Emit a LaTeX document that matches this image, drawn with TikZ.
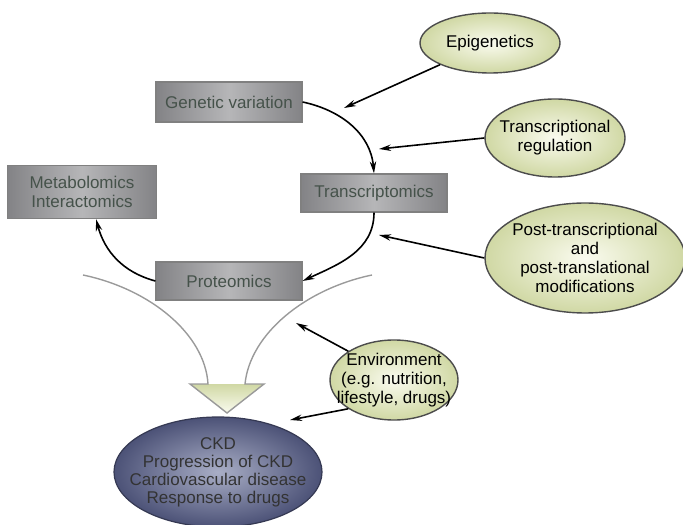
\documentclass[tikz,border=0pt]{standalone}
\usepackage{fontspec}
\setmainfont{Liberation Sans}
\usetikzlibrary{arrows.meta,shapes.geometric}
\definecolor{omicdark}{HTML}{838386}
\definecolor{omiclight}{HTML}{B6B6B8}
\definecolor{omictext}{HTML}{45524A}
\definecolor{factordark}{HTML}{D0D8A4}
\definecolor{factorlight}{HTML}{FAFBEF}
\definecolor{ckddark}{HTML}{4C5277}
\definecolor{ckdlight}{HTML}{A9AEC6}
\definecolor{funnelgray}{HTML}{9A9A9A}
\begin{document}
\begin{tikzpicture}[x=0.5pt,y=0.5pt,
	omic/.style={rectangle,draw=black!50,line width=0.6pt,left color=omicdark,right color=omicdark,middle color=omiclight,text=omictext,minimum width=73pt,minimum height=20pt,font=\fontsize{8.5}{9.5}\selectfont,align=center},
	factor/.style={ellipse,draw=black!70,line width=0.7pt,inner color=factorlight,outer color=factordark,inner sep=-8pt,font=\fontsize{8.5}{9.5}\selectfont,align=center},
	ckdnode/.style={ellipse,draw=ckddark!70!black,line width=0.6pt,inner color=ckdlight,outer color=ckddark,inner sep=-8pt,text=black!80,font=\fontsize{8.5}{9}\selectfont,align=center},
	link/.style={line width=0.8pt,-{Stealth[length=6pt,width=3.2pt]}}]
		\useasboundingbox (0,0) rectangle (683,524);
		
		\draw (490,481) node[factor,minimum width=70pt,minimum height=30pt] (epi) {Epigenetics};
		\draw (229,422) node[omic] (gv) {Genetic variation};
		\draw (555,386) node[factor,minimum width=70pt,minimum height=39pt] (treg) {Transcriptional\\regulation};
		\draw (82,332) node[omic,minimum width=74.5pt,minimum height=26.5pt] (meta) {Metabolomics\\Interactomics};
		\draw (374,331) node[omic,minimum height=19pt] (tx) {Transcriptomics};
		\draw (585,266) node[factor,minimum width=100pt,minimum height=55pt] (ptm) {Post-transcriptional\\and\\post-translational\\modifications};
		\draw (229,243) node[omic,minimum height=19pt] (prot) {Proteomics};
		\draw (394,144) node[factor,minimum width=64pt,minimum height=40pt] (env) {Environment\\(e.g. nutrition,\\lifestyle, drugs)};
		
		\draw (218,52) node[ckdnode,minimum width=104pt,minimum height=55pt] (ckd) {CKD\\Progression of CKD\\Cardiovascular disease\\Response to drugs};
		
		\fill [top color=factordark,bottom color=factorlight] (190,140) -- (227,111) -- (264,140) -- cycle;
		\draw [color=funnelgray,line width=0.7pt] (83,249) .. controls (150,235) and (205,190) .. (208,140) -- (190,140) -- (227,111) -- (264,140) -- (245,140) .. controls (250,190) and (305,235) .. (372,249);
		
		\coordinate (epitip) at (344,416);
		\coordinate (tregtip) at (379,375);
		\coordinate (ptmtip) at (379,289);
		\coordinate (envtip) at (296,201);
		\coordinate (ckdtip) at (290,104);
		
		\draw [link] (gv.east) to[out=-12,in=95] (tx.north);
		\draw [link] (tx.south) to[out=-90,in=25] (prot.east);
		\draw [link] (prot.west) to[out=165,in=-75] ([xshift=7pt]meta.south);
		
		\draw [link] (epi.south west) -- (epitip);
		\draw [link] (treg.west) -- (tregtip);
		\draw [link] (ptm.west) -- (ptmtip);
		\draw [link] (env.north west) -- (envtip);
		\draw [link] (env.south west) -- (ckdtip);
		\end{tikzpicture}
\end{document}
